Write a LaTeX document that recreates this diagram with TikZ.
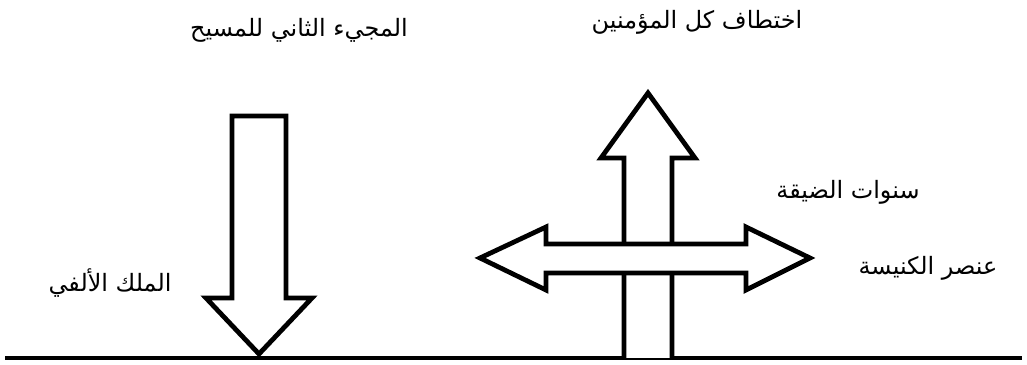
\documentclass[tikz,border=0pt]{standalone}
\usepackage{fontspec}
\newfontfamily\arabicfont[Script=Arabic]{DejaVu Sans}
\TeXXeTstate=1
\usetikzlibrary{positioning}
\tikzset{
  arlabel/.style={inner sep=0pt,font=\arabicfont\fontsize{17}{20}\selectfont},
  bigarrow/.style={draw=black,fill=white,line width=3.4pt,line join=miter},
  ground/.style={draw=black,line width=3pt}
}
\newcommand{\ar}[1]{\beginR #1\endR}

\begin{document}
\begin{tikzpicture}[x=0.025cm,y=-0.025cm]
  \useasboundingbox (0,0) rectangle (1027,365);
  % labels
  \node[arlabel] (second) at (299,30) {\ar{المجيء الثاني للمسيح}};
  \node[arlabel] (rapture) at (697,22) {\ar{اختطاف كل المؤمنين}};
  \node[arlabel] (tribulation) at (848,192) {\ar{سنوات الضيقة}};
  \node[arlabel] (church) at (928,268) {\ar{عنصر الكنيسة}};
  \node[arlabel] (kingdom) at (110,283) {\ar{الملك الألفي}};
  % ground line
  \coordinate (groundL) at (5,358);
  \coordinate (groundR) at (1022,358);
  \draw[ground] (groundL) -- (groundR);
  % down arrow
  \draw[bigarrow] (232,116) -- (286,116) -- (286,298) -- (312,298) -- (259,354)
    -- (206,298) -- (232,298) -- cycle;
  % up arrow
  \draw[bigarrow] (624,358) -- (624,158) -- (601,158) -- (648,93) -- (695,158)
    -- (672,158) -- (672,358);
  % left-right arrow
  \draw[bigarrow] (480,258) -- (546,227) -- (546,244) -- (746,244) -- (746,227)
    -- (810,258) -- (746,290) -- (746,273) -- (546,273) -- (546,290) -- cycle;
\end{tikzpicture}
\end{document}
